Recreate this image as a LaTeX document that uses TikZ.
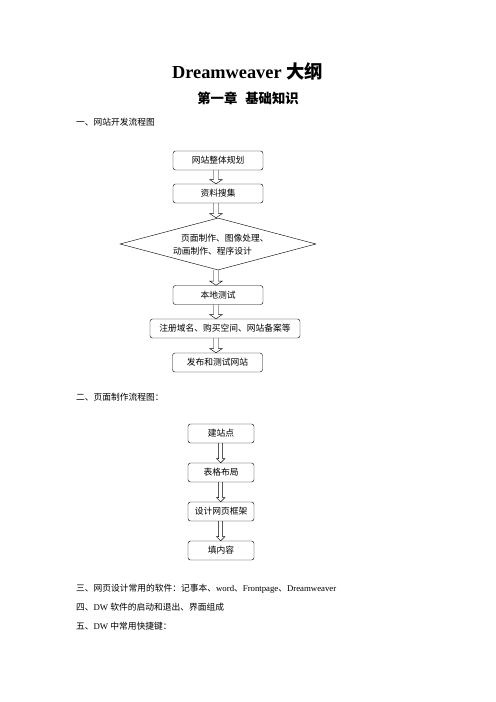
\documentclass[tikz,border=0pt]{standalone}
\usepackage{fontspec}
\setmainfont{Liberation Serif}
\newfontfamily\cjk{Noto Sans CJK SC}
\usetikzlibrary{shapes.geometric,calc}

% hollow block arrow from the bottom of one node to the top of the next,
% centred on the x of an axis coordinate
\newcommand\blockarrow[6]{%
  \draw[arrowline] let \p0=(#1), \p1=(#2.south), \p2=(#3.north) in
    (\x0-#4,\y1) -- (\x0-#4,\y2+#6) -- (\x0-#5,\y2+#6) -- (\x0,\y2)
    -- (\x0+#5,\y2+#6) -- (\x0+#4,\y2+#6) -- (\x0+#4,\y1);}

\begin{document}
\begin{tikzpicture}[x=1.2pt,y=-1.2pt,
  every node/.style={inner sep=0pt},
  body/.style={anchor=base west,font=\fontsize{10.5pt}{12pt}\selectfont},
  box/.style={draw,line width=0.5pt,rounded corners=3pt,minimum height=22.8pt,
    font=\cjk\fontsize{10.5pt}{12pt}\selectfont},
  wide/.style={box,minimum width=108pt},
  small/.style={box,minimum width=79.2pt},
  arrowline/.style={draw,line width=0.5pt,line join=miter}]

\useasboundingbox[fill=white] (0,0) rectangle (496,702);

% headings
\node (title) [anchor=base] at (247.5,78)
  {\fontsize{22pt}{26pt}\selectfont\bfseries Dreamweaver {\cjk 大纲}};
\node (chap) [anchor=base] at (248,103)
  {\cjk\fontsize{16pt}{19pt}\selectfont\bfseries 第一章\hspace{0.6em}基础知识};

\node (s1) [body] at (76,125.3) {\cjk 一、网站开发流程图};

% site development flow
\coordinate (ax1) at (216,0);
\node (b1) [wide] at (218,160.5) {网站整体规划};
\node (b2) [wide] at (218,193.5) {资料搜集};
\node (d)  [draw,line width=0.5pt,shape=diamond,minimum width=235.2pt,
            minimum height=62.4pt] at (218,244) {};
\node (d1) [body] at (181,241.3) {\cjk 页面制作、图像处理、};
\node (d2) [body] at (173,254.3) {\cjk 动画制作、程序设计};
\node (b3) [wide] at (218,295) {本地测试};
\node (b4) [box,minimum width=180pt] at (225,328.5) {注册域名、购买空间、网站备案等};
\node (b5) [wide] at (217.5,362.5) {发布和测试网站};

\blockarrow{ax1}{b1}{b2}{3pt}{7.5pt}{5pt}
\blockarrow{ax1}{b2}{d}{3pt}{7.5pt}{5pt}
\blockarrow{ax1}{d}{b3}{3pt}{7.5pt}{5pt}
\blockarrow{ax1}{b3}{b4}{3pt}{7.5pt}{5pt}
\blockarrow{ax1}{b4}{b5}{3pt}{7.5pt}{5pt}

\node (s2) [body] at (76,400.3) {\cjk 二、页面制作流程图：};

% page building flow
\coordinate (ax2) at (220.7,0);
\node (c1) [small] at (221,433.5) {建站点};
\node (c2) [small] at (221,472.5) {表格布局};
\node (c3) [small] at (221,511.5) {设计网页框架};
\node (c4) [small] at (221,550.5) {填内容};

\blockarrow{ax2}{c1}{c2}{2.4pt}{5pt}{5pt}
\blockarrow{ax2}{c2}{c3}{2.4pt}{5pt}{5pt}
\blockarrow{ax2}{c3}{c4}{2.4pt}{5pt}{5pt}

% remaining outline items
\node (s3) [body] at (76,591.3)
  {{\cjk 三、网页设计常用的软件：记事本、}word{\cjk 、}Frontpage{\cjk 、}Dreamweaver};
\node (s4) [body] at (76,610.3) {{\cjk 四、}DW {\cjk 软件的启动和退出、界面组成}};
\node (s5) [body] at (76,629.3) {{\cjk 五、}DW {\cjk 中常用快捷键：}};
\end{tikzpicture}
\end{document}
